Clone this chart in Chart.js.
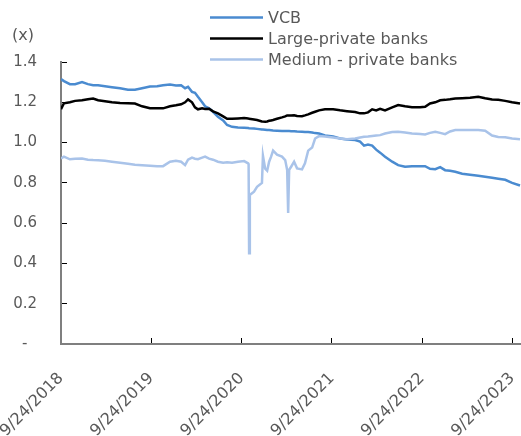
<!DOCTYPE html>
<html>
<head>
<meta charset="utf-8">
<script src="https://cdn.jsdelivr.net/npm/chart.js@4.4.0/dist/chart.umd.min.js"></script>
<style>
  html, body { margin: 0; padding: 0; background: #fff; }
</style>
</head>
<body>
<canvas id="chart" width="521" height="436"></canvas>
<script>
// Price-to-book style multiples
const startDate = '2018-09-24';
const endDate   = '2023-10-29';

const dates = [
  '2018-09-24','2018-10-06','2018-10-30','2018-11-20','2018-12-18','2019-01-11','2019-02-01','2019-02-21',
  '2019-03-21','2019-04-18','2019-05-21','2019-06-22','2019-07-20','2019-08-18','2019-09-19','2019-10-18',
  '2019-11-11','2019-12-09','2020-01-02','2020-01-23','2020-02-08','2020-02-20','2020-03-07','2020-03-19',
  '2020-03-31','2020-04-17','2020-04-29','2020-05-15','2020-05-31','2020-06-20','2020-07-11','2020-07-27',
  '2020-08-16','2020-09-09','2020-10-04','2020-10-20','2020-10-22','2020-10-24','2020-10-27','2020-11-13',
  '2020-11-25','2020-12-15','2020-12-19','2020-12-28','2021-01-05','2021-01-13','2021-01-21','2021-01-29',
  '2021-02-14','2021-03-06','2021-03-19','2021-03-27','2021-03-31','2021-04-04','2021-04-12','2021-04-24',
  '2021-05-06','2021-05-26','2021-06-07','2021-06-20','2021-07-06','2021-07-18','2021-08-03','2021-08-27',
  '2021-09-29','2021-10-27','2021-11-24','2021-12-27','2022-01-16','2022-02-01','2022-02-17','2022-03-06',
  '2022-03-22','2022-04-07','2022-04-27','2022-05-26','2022-06-19','2022-07-17','2022-08-14','2022-09-16',
  '2022-10-06','2022-10-26','2022-11-16','2022-12-06','2022-12-26','2023-01-15','2023-02-05','2023-03-05',
  '2023-04-06','2023-05-09','2023-06-06','2023-07-04','2023-07-29','2023-08-26','2023-09-23','2023-10-25'
];

const vcb = [
  1.315,1.305,1.290,1.290,1.300,1.290,1.285,1.285,
  1.280,1.275,1.270,1.262,1.262,1.270,1.278,1.280,
  1.285,1.288,1.283,1.285,1.270,1.277,1.252,1.247,
  1.227,1.200,1.180,1.170,1.153,1.128,1.110,1.087,
  1.078,1.075,1.073,1.072,1.072,1.071,1.071,1.070,
  1.068,1.065,1.065,1.064,1.062,1.062,1.061,1.060,
  1.059,1.058,1.057,1.057,1.057,1.057,1.056,1.056,
  1.055,1.054,1.053,1.052,1.050,1.047,1.045,1.035,
  1.030,1.020,1.015,1.013,1.005,0.985,0.990,0.985,
  0.965,0.950,0.930,0.905,0.888,0.880,0.882,0.883,
  0.883,0.870,0.868,0.878,0.863,0.860,0.855,0.845,
  0.840,0.835,0.830,0.825,0.820,0.815,0.800,0.787
];

const largePrivate = [
  1.166,1.195,1.200,1.207,1.210,1.215,1.219,1.210,
  1.205,1.200,1.197,1.195,1.194,1.180,1.170,1.170,
  1.170,1.180,1.185,1.190,1.200,1.214,1.200,1.175,
  1.165,1.170,1.167,1.168,1.155,1.145,1.130,1.118,
  1.118,1.120,1.122,1.120,1.120,1.118,1.118,1.115,
  1.112,1.105,1.104,1.103,1.105,1.108,1.110,1.112,
  1.118,1.125,1.130,1.135,1.135,1.135,1.135,1.136,
  1.132,1.131,1.135,1.140,1.148,1.153,1.160,1.165,
  1.165,1.160,1.156,1.152,1.145,1.145,1.150,1.165,
  1.160,1.168,1.160,1.175,1.186,1.180,1.175,1.175,
  1.178,1.194,1.200,1.210,1.212,1.215,1.219,1.220,
  1.222,1.227,1.220,1.214,1.212,1.207,1.200,1.194
];

const mediumPrivate = [
  0.921,0.930,0.917,0.920,0.921,0.915,0.913,0.912,
  0.910,0.905,0.900,0.895,0.890,0.888,0.885,0.883,
  0.883,0.905,0.910,0.905,0.888,0.915,0.925,0.920,
  0.917,0.925,0.930,0.920,0.915,0.905,0.900,0.902,
  0.900,0.905,0.908,0.897,0.895,0.450,0.740,0.756,
  0.780,0.800,0.935,0.870,0.860,0.905,0.930,0.960,
  0.940,0.930,0.913,0.864,0.650,0.864,0.880,0.905,
  0.872,0.867,0.897,0.960,0.975,1.020,1.032,1.030,
  1.025,1.020,1.016,1.020,1.025,1.029,1.030,1.033,
  1.035,1.037,1.045,1.052,1.054,1.050,1.045,1.042,
  1.040,1.048,1.054,1.048,1.042,1.055,1.062,1.062,
  1.062,1.062,1.059,1.035,1.028,1.026,1.020,1.017
];

const xTickDates = ['2018-09-24','2019-09-24','2020-09-24','2021-09-24','2022-09-24','2023-09-24'];
const yTicks = [0, 0.2, 0.4, 0.6, 0.8, 1.0, 1.2, 1.4];

const TEXT = '#595959';
const FONT = 'DejaVu Sans';

const toDay = s => (Date.parse(s) - Date.parse(startDate)) / 864e5;
const fmtDay = v => {
    const d = new Date(Date.parse(startDate) + v * 864e5);
    return (d.getUTCMonth() + 1) + '/' + d.getUTCDate() + '/' + d.getUTCFullYear();
};
const pts = arr => arr.map((y, i) => ({ x: toDay(dates[i]), y }));

// Legend stacked above the plot, plus the "(x)" unit label
const legendPlugin = {
    id: 'stackedLegend',
    afterDraw(chart) {
        const ctx = chart.ctx;
        const rows = [17.5, 38.5, 59.5];
        ctx.save();
        ctx.font = '16px "' + FONT + '"';
        ctx.textBaseline = 'middle';
        chart.data.datasets.forEach((ds, i) => {
            ctx.strokeStyle = ds.borderColor;
            ctx.lineWidth = ds.borderWidth;
            ctx.beginPath();
            ctx.moveTo(210, rows[i]);
            ctx.lineTo(263, rows[i]);
            ctx.stroke();
            ctx.fillStyle = TEXT;
            ctx.textAlign = 'left';
            ctx.fillText(ds.label, 268, rows[i] + 1);
        });
        ctx.fillText('(x)', 12, 36);
        ctx.restore();
    }
};

new Chart(document.getElementById('chart'), {
    type: 'line',
    data: {
        datasets: [
            { label: 'VCB', data: pts(vcb), borderColor: '#4A8BD0', borderWidth: 2.5, order: 3 },
            { label: 'Large-private banks', data: pts(largePrivate), borderColor: '#000000', borderWidth: 2.5, order: 2 },
            { label: 'Medium - private banks', data: pts(mediumPrivate), borderColor: '#A9C3E9', borderWidth: 2.5, order: 1 }
        ]
    },
    options: {
        responsive: false,
        animation: false,
        devicePixelRatio: 1,
        elements: { point: { radius: 0 }, line: { tension: 0 } },
        layout: { padding: { top: 62, left: 0, right: 0, bottom: 0 } },
        plugins: { legend: { display: false }, tooltip: { enabled: false } },
        scales: {
            x: {
                type: 'linear',
                min: 0,
                max: toDay(endDate),
                afterBuildTicks: s => { s.ticks = xTickDates.map(d => ({ value: toDay(d) })); },
                afterFit: s => { s.height = 92; s.paddingLeft = 0; s.paddingRight = 0; },
                ticks: {
                    autoSkip: false, minRotation: 45, maxRotation: 45, padding: 31,
                    color: TEXT, font: { family: FONT, size: 16 },
                    callback: v => fmtDay(v)
                },
                grid: { drawOnChartArea: false, tickLength: -6, color: '#000', lineWidth: 1 },
                border: { color: '#7F7F7F', width: 2 }
            },
            y: {
                min: 0,
                max: 1.4,
                afterBuildTicks: s => { s.ticks = yTicks.map(v => ({ value: v })); },
                afterFit: s => { s.width = 61; },
                ticks: {
                    padding: 30,
                    color: TEXT, font: { family: FONT, size: 15 },
                    callback: v => v === 0 ? '-  ' : v.toFixed(1)
                },
                grid: { drawOnChartArea: false, tickLength: -6, color: '#000', lineWidth: 1 },
                border: { color: '#7F7F7F', width: 2 }
            }
        }
    },
    plugins: [legendPlugin]
});
</script>
</body>
</html>
